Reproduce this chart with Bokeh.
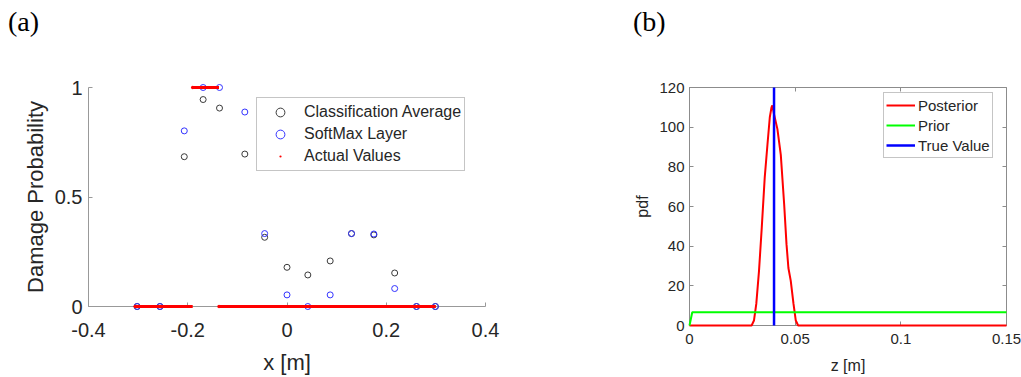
from bokeh.plotting import figure
from bokeh.models import Range1d, FixedTicker, LinearAxis, Legend, LegendItem, Div
from bokeh.layouts import row, column
from bokeh.embed import file_html
from bokeh.resources import INLINE

# ---------------- data: panel (a) ----------------
sensor_x = [-0.302, -0.256, -0.207, -0.169, -0.136, -0.085, -0.045, 0.0,
            0.042, 0.087, 0.130, 0.175, 0.217, 0.261, 0.299]
class_avg = [0.0, 0.0, 0.684, 0.945, 0.906, 0.696, 0.316, 0.179,
             0.144, 0.208, 0.333, 0.327, 0.153, 0.0, 0.0]
softmax = [0.0, 0.0, 0.802, 1.0, 1.0, 0.888, 0.333, 0.053,
           0.0, 0.053, 0.333, 0.331, 0.082, 0.0, 0.0]
act_start = [-0.306, -0.19, -0.137]
act_end = [-0.19, -0.137, 0.300]
act_val = [0.0, 1.0, 0.0]
xa_ticks = [-0.4, -0.2, 0.0, 0.2, 0.4]
xa_labels = ["-0.4", "-0.2", "0", "0.2", "0.4"]
ya_ticks = [0.0, 0.5, 1.0]
ya_labels = ["0", "0.5", "1"]

# ---------------- data: panel (b) ----------------
post_z = [0.0, 0.0294, 0.0305, 0.0316, 0.0329, 0.0342, 0.0356, 0.0369, 0.0380,
          0.0388, 0.0392, 0.0400, 0.0416, 0.0432, 0.0448, 0.0459, 0.0468,
          0.0479, 0.0492, 0.0503, 0.0514, 0.15]
post_pdf = [0.0, 0.0, 2.5, 10.9, 27.7, 49.5, 74.7, 91.4, 105.0,
            110.0, 111.0, 106.5, 99.0, 86.0, 61.0, 41.0, 29.0,
            22.6, 11.0, 2.5, 0.0, 0.0]
prior_z = [0.0, 0.0013, 0.15]
prior_pdf = [0.0, 6.7, 6.7]
true_z = [0.040, 0.040]
true_pdf = [0.0, 120.0]
xb_ticks = [0.0, 0.05, 0.1, 0.15]
xb_labels = ["0", "0.05", "0.1", "0.15"]
yb_ticks = [0, 20, 40, 60, 80, 100, 120]

TXT = "#262626"
FONT = "Liberation Sans"


def style_axis(ax, size, color):
    ax.axis_line_color = color
    ax.major_tick_line_color = color
    ax.minor_tick_line_color = None
    ax.major_tick_in = 4
    ax.major_tick_out = 0
    ax.major_label_text_font = FONT
    ax.major_label_text_font_size = size
    ax.major_label_text_color = TXT
    ax.axis_label_text_font = FONT
    ax.axis_label_text_font_style = "normal"
    ax.axis_label_text_color = TXT


def panel_tag(text, width, left):
    return Div(text=text, width=width, height=40, margin=0,
               styles={"font-family": "Liberation Serif", "font-size": "28px",
                       "line-height": "28px", "padding-left": f"{left}px",
                       "padding-top": "8px", "box-sizing": "border-box",
                       "color": "black"})


# ---------------- panel (a) ----------------
pa = figure(width=520, height=337, x_range=Range1d(-0.4, 0.4), y_range=Range1d(0, 1),
            output_backend="svg", toolbar_location=None,
            min_border_left=88, min_border_right=35, min_border_top=47, min_border_bottom=71)
pa.frame_align = False
pa.outline_line_color = None
pa.grid.visible = False

xa = pa.xaxis[0]
ya = pa.yaxis[0]
style_axis(xa, "20px", "#999999")
style_axis(ya, "20px", "#999999")
xa.ticker = FixedTicker(ticks=xa_ticks)
xa.major_label_overrides = dict(zip(xa_ticks, xa_labels))
ya.ticker = FixedTicker(ticks=ya_ticks)
ya.major_label_overrides = dict(zip(ya_ticks, ya_labels))
xa.axis_label = "x [m]"
ya.axis_label = "Damage Probability"
xa.axis_label_text_font_size = "22px"
ya.axis_label_text_font_size = "22px"
xa.major_label_standoff = 16
xa.axis_label_standoff = 10
ya.major_label_standoff = 6
ya.axis_label_standoff = 4

r_cls = pa.scatter(sensor_x, class_avg, marker="circle", size=6, fill_color=None,
                   line_color="#3a3a3a", line_width=1, level="overlay")
r_soft = pa.scatter(sensor_x, softmax, marker="circle", size=6, fill_color=None,
                    line_color="#3333ff", line_width=1, level="overlay")
pa.segment(x0=act_start, y0=act_val, x1=act_end, y1=act_val, line_color="#ff0000",
           line_width=3, level="overlay")
r_act = pa.scatter(act_start, act_val, marker="dot", size=14, line_color="#ff0000",
                   fill_color="#ff0000", level="overlay")

leg_a = Legend(items=[LegendItem(label="Classification Average", renderers=[r_cls]),
                      LegendItem(label="SoftMax Layer", renderers=[r_soft]),
                      LegendItem(label="Actual Values", renderers=[r_act])],
               location=(168, 135), padding=3, spacing=0, glyph_width=40, glyph_height=22,
               label_height=22, label_standoff=4, label_text_font=FONT,
               label_text_font_size="16px", label_text_color=TXT,
               border_line_color="#8c8c8c", border_line_width=1,
               background_fill_color="white", background_fill_alpha=1.0)
pa.add_layout(leg_a)

# ---------------- panel (b) ----------------
pb = figure(width=501, height=337, x_range=Range1d(0, 0.15), y_range=Range1d(0, 120),
            output_backend="svg", toolbar_location=None,
            min_border_left=169, min_border_right=15, min_border_top=47, min_border_bottom=52)
pb.frame_align = False
pb.outline_line_color = "#8c8c8c"
pb.grid.visible = False
xb = pb.xaxis[0]
yb = pb.yaxis[0]
style_axis(xb, "15px", "#8c8c8c")
style_axis(yb, "15px", "#8c8c8c")
xb.ticker = FixedTicker(ticks=xb_ticks)
xb.major_label_overrides = dict(zip(xb_ticks, xb_labels))
yb.ticker = FixedTicker(ticks=yb_ticks)
xb.axis_label = "z [m]"
yb.axis_label = "pdf"
xb.axis_label_text_font_size = "16px"
yb.axis_label_text_font_size = "16px"
xb.major_label_standoff = 8
xb.axis_label_standoff = 10
yb.major_label_standoff = 5
yb.axis_label_standoff = 5

ax_top = LinearAxis(ticker=FixedTicker(ticks=xb_ticks))
ax_right = LinearAxis(ticker=FixedTicker(ticks=yb_ticks))
for ax in (ax_top, ax_right):
    style_axis(ax, "15px", "#8c8c8c")
    ax.axis_line_color = None
    ax.major_label_standoff = 0
ax_top.major_label_overrides = {t: "" for t in xb_ticks}
ax_right.major_label_overrides = {t: "" for t in yb_ticks}
pb.add_layout(ax_top, "above")
pb.add_layout(ax_right, "right")

r_post = pb.line(post_z, post_pdf, line_color="#ff0000", line_width=2, level="overlay")
r_prior = pb.line(prior_z, prior_pdf, line_color="#00ff00", line_width=2, level="overlay")
r_true = pb.line(true_z, true_pdf, line_color="#0000ff", line_width=2.5, level="overlay")

leg_b = Legend(items=[LegendItem(label="Posterior", renderers=[r_post]),
                      LegendItem(label="Prior", renderers=[r_prior]),
                      LegendItem(label="True Value", renderers=[r_true])],
               location=(194, 167), padding=2, spacing=0, glyph_width=29, glyph_height=20,
               label_height=20, label_standoff=3, label_text_font=FONT,
               label_text_font_size="15px", label_text_color=TXT,
               border_line_color="#8c8c8c", border_line_width=1,
               background_fill_color="white", background_fill_alpha=1.0)
pb.add_layout(leg_b)

layout = column(row(panel_tag("(a)", 520, 8), panel_tag("(b)", 501, 113), spacing=0),
                row(pa, pb, spacing=0), spacing=0)
open("out.html", "w").write(file_html(layout, INLINE))
